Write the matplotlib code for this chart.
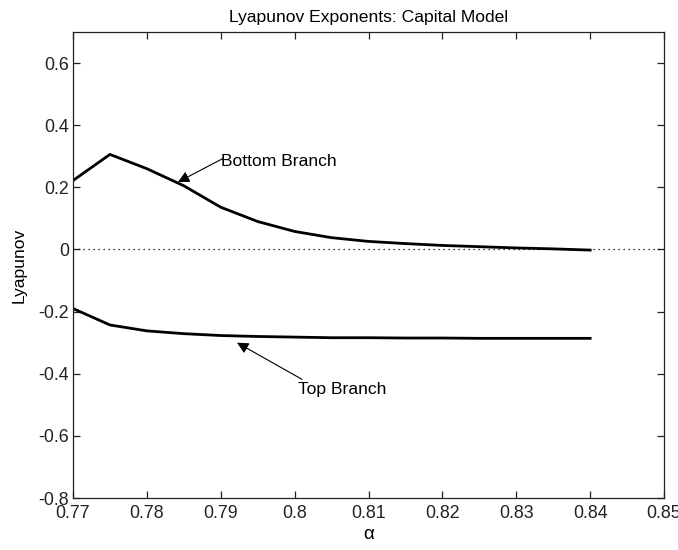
import matplotlib
matplotlib.use("Agg")
import matplotlib.pyplot as plt

plt.rcParams['font.family'] = ['Liberation Sans', 'DejaVu Sans']

alpha = [0.770, 0.775, 0.780, 0.785, 0.790, 0.795, 0.800, 0.805,
         0.810, 0.815, 0.820, 0.825, 0.830, 0.835, 0.840]
bottom_branch = [0.222, 0.306, 0.260, 0.205, 0.136, 0.090, 0.058, 0.038,
                 0.026, 0.019, 0.013, 0.009, 0.005, 0.002, -0.002]
top_branch = [-0.190, -0.243, -0.262, -0.271, -0.277, -0.280, -0.282, -0.284,
              -0.284, -0.285, -0.285, -0.286, -0.286, -0.286, -0.286]

xticks = [0.77, 0.78, 0.79, 0.80, 0.81, 0.82, 0.83, 0.84, 0.85]
xtick_labels = ["0.77", "0.78", "0.79", "0.8", "0.81", "0.82", "0.83", "0.84", "0.85"]
yticks = [-0.8, -0.6, -0.4, -0.2, 0, 0.2, 0.4, 0.6]
ytick_labels = ["-0.8", "-0.6", "-0.4", "-0.2", "0", "0.2", "0.4", "0.6"]

fig = plt.figure(figsize=(6.78, 5.5), dpi=100)
ax = fig.add_axes([0.1077, 0.0945, 0.8717, 0.8473])

ax.plot(alpha, bottom_branch, color='k', lw=2.0)
ax.plot(alpha, top_branch, color='k', lw=2.0)
ax.axhline(0, color='k', lw=0.9, ls=(0, (1, 3)))

ax.set_xlim(0.77, 0.85)
ax.set_ylim(-0.8, 0.7)
ax.set_xticks(xticks)
ax.set_xticklabels(xtick_labels)
ax.set_yticks(yticks)
ax.set_yticklabels(ytick_labels)
ax.tick_params(direction='in', length=5, width=0.9, top=True, right=True,
               labelsize=12.8, colors='#222222')
ax.tick_params(axis='x', pad=5)
ax.tick_params(axis='y', pad=3)
for s in ax.spines.values():
    s.set_linewidth(0.9)
    s.set_color('#222222')

ax.set_title("Lyapunov Exponents: Capital Model", fontsize=12.6, pad=7)
ax.set_xlabel("α", fontsize=13.5, labelpad=3)
ax.set_ylabel("Lyapunov", fontsize=12.6, labelpad=8)

arrow = dict(arrowstyle='-|>', color='k', lw=0.8, mutation_scale=17,
             shrinkA=0, shrinkB=0)
ax.annotate("", xy=(0.7842, 0.217), xytext=(0.7903, 0.293), arrowprops=arrow)
ax.text(0.7900, 0.282, "Bottom Branch", fontsize=12.6, ha='left', va='center')
ax.annotate("", xy=(0.7922, -0.300), xytext=(0.8010, -0.418), arrowprops=arrow)
ax.text(0.8005, -0.452, "Top Branch", fontsize=12.6, ha='left', va='center')

fig.savefig("out.png", dpi=100)
